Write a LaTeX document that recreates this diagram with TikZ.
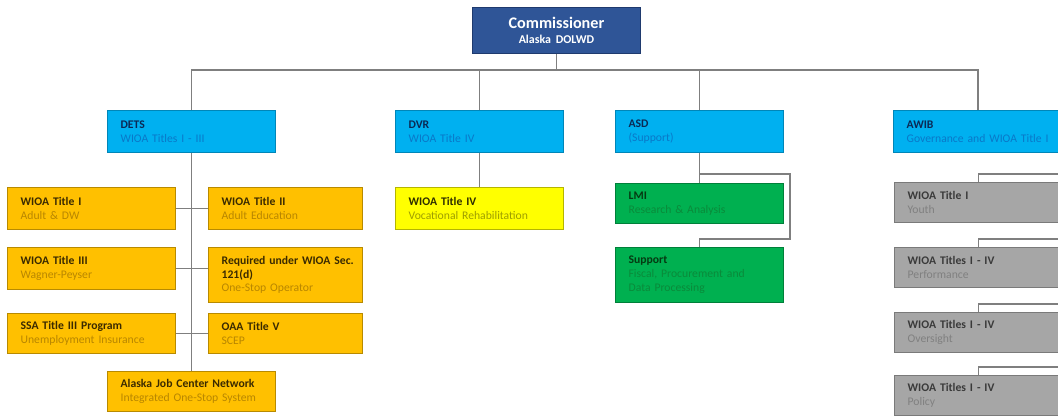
\documentclass[tikz,border=0pt]{standalone}
\usepackage{fontspec}
\setmainfont{Carlito}
\usetikzlibrary{positioning}

\definecolor{commfill}{HTML}{2F5597}
\definecolor{commedge}{HTML}{1F3A6E}
\definecolor{linkgray}{HTML}{7F7F7F}
\definecolor{bluefill}{HTML}{00B0F0}
\definecolor{blueedge}{HTML}{0086B8}
\definecolor{bluetitle}{HTML}{0B2A55}
\definecolor{bluesub}{HTML}{0A78C8}
\definecolor{orangefill}{HTML}{FFC000}
\definecolor{orangeedge}{HTML}{B88A00}
\definecolor{orangetitle}{HTML}{3A2A00}
\definecolor{orangesub}{HTML}{B88600}
\definecolor{yellowfill}{HTML}{FFFF00}
\definecolor{yellowedge}{HTML}{B5B500}
\definecolor{yellowtitle}{HTML}{2E2E00}
\definecolor{yellowsub}{HTML}{9E9E00}
\definecolor{greenfill}{HTML}{00B050}
\definecolor{greenedge}{HTML}{00803A}
\definecolor{greentitle}{HTML}{053A12}
\definecolor{greensub}{HTML}{0A8A3A}
\definecolor{grayfill}{HTML}{A6A6A6}
\definecolor{grayedge}{HTML}{7A7A7A}
\definecolor{graytitle}{HTML}{3A3A3A}
\definecolor{graysub}{HTML}{808080}

\newcommand{\twoline}[2]{\textbf{#1}\\{\color{subtxt}#2}}

\tikzset{
  link/.style={draw=linkgray, line width=0.8pt},
  unit/.style={rectangle, anchor=north west, line width=0.6pt,
    inner xsep=0.33cm, inner ysep=2pt, minimum width=4.2cm,
    minimum height=1.05cm, text width=3.54cm, align=left,
    font=\fontsize{8.3}{9.8}\selectfont},
  narrow/.style={minimum width=3.85cm, text width=3.19cm},
  bluebox/.style={unit, fill=bluefill, draw=blueedge, text=bluetitle,
    execute at begin node={\colorlet{subtxt}{bluesub}}},
  orangebox/.style={unit, fill=orangefill, draw=orangeedge, text=orangetitle,
    execute at begin node={\colorlet{subtxt}{orangesub}}},
  yellowbox/.style={unit, fill=yellowfill, draw=yellowedge, text=yellowtitle,
    execute at begin node={\colorlet{subtxt}{yellowsub}}},
  greenbox/.style={unit, fill=greenfill, draw=greenedge, text=greentitle,
    execute at begin node={\colorlet{subtxt}{greensub}}},
  graybox/.style={unit, fill=grayfill, draw=grayedge, text=graytitle,
    minimum height=1.0cm,
    execute at begin node={\colorlet{subtxt}{graysub}}}
}

\begin{document}
\begin{tikzpicture}[x=0.025cm, y=-0.025cm]
  \useasboundingbox (0,0) rectangle (1058,417);
  \clip (0,0) rectangle (1058,417);

  \node[unit, fill=commfill, draw=commedge, text=white, align=center,
    minimum height=1.15cm, font=\bfseries] (comm) at (472,7)
    {{\fontsize{11.5}{13}\selectfont Commissioner}\\[-1pt]{\fontsize{8.5}{10}\selectfont Alaska DOLWD}};

  \node[bluebox] (dets) at (107,110) {\twoline{DETS}{WIOA Titles I - III}};
  \node[bluebox] (dvr) at (395,110) {\twoline{DVR}{WIOA Title IV}};
  \node[bluebox] (asd) at (615,110) {\twoline{ASD}{(Support)}};
  \node[bluebox, minimum width=5cm, text width=4.34cm] (awib) at (893,110)
    {\twoline{AWIB}{Governance and WIOA Title I}};

  \coordinate (bus) at (0,70);
  \coordinate (awibjoin) at (978,110);
  \draw[link] (comm.south) -- (comm.south |- bus);
  \draw[link] (dets.north) |- (awibjoin |- bus) -- (awibjoin);
  \foreach \n in {dvr,asd}
    \draw[link] (\n.north) -- (\n.north |- bus);

  % DETS
  \node[orangebox] (wioaone) at (7,187) {\twoline{WIOA Title I}{Adult \& DW}};
  \node[orangebox, narrow] (wioatwo) at (208,187) {\twoline{WIOA Title II}{Adult Education}};
  \node[orangebox] (wioathree) at (7,247) {\twoline{WIOA Title III}{Wagner-Peyser}};
  \node[orangebox, narrow, minimum height=1.375cm] (sec) at (208,247)
    {\textbf{\mbox{Required under WIOA Sec.}}\\\textbf{121(d)}\\{\color{subtxt}One-Stop Operator}};
  \node[orangebox, minimum height=1.0cm] (ssa) at (7,313) {\twoline{SSA Title III Program}{Unemployment Insurance}};
  \node[orangebox, narrow, minimum height=1.0cm] (oaa) at (208,313) {\twoline{OAA Title V}{SCEP}};
  \node[orangebox, minimum height=1.0cm] (ajcn) at (107,371) {\twoline{Alaska Job Center Network}{Integrated One-Stop System}};

  \draw[link] (dets.south) -- (ajcn.north);
  \draw[link] (wioaone.east) -- (wioatwo.west);
  \draw[link] (wioathree.east) -- (wioathree.east -| sec.west);
  \draw[link] (ssa.east) -- (oaa.west);

  % DVR
  \node[yellowbox] (voc) at (395,187) {\twoline{WIOA Title IV}{Vocational Rehabilitation}};
  \draw[link] (dvr.south) -- (voc.north);

  % ASD
  \node[greenbox, minimum height=1.0cm] (lmi) at (615,183) {\twoline{LMI}{Research \& Analysis}};
  \node[greenbox, minimum height=1.375cm] (supp) at (615,247)
    {\textbf{Support}\\{\color{subtxt}Fiscal, Procurement and}\\{\color{subtxt}Data Processing}};
  \coordinate (asdtop) at (790,174);
  \coordinate (asdbot) at (790,239);
  \draw[link] (asd.south) -- (lmi.north);
  \draw[link] (asd.south |- asdtop) -- (asdtop) -- (asdbot) -| (supp.north);

  % AWIB
  \foreach \y/\t/\s [count=\k] in {182/WIOA Title I/Youth,
      247/WIOA Titles I - IV/Performance,
      312/WIOA Titles I - IV/Oversight,
      375/WIOA Titles I - IV/Policy} {
    \node[graybox] (g\k) at (894,\y) {\twoline{\t}{\s}};
    \coordinate (rail\k) at (1080,\y-8);
    \draw[link] (g\k.north) |- (rail\k);
  }
\end{tikzpicture}
\end{document}
